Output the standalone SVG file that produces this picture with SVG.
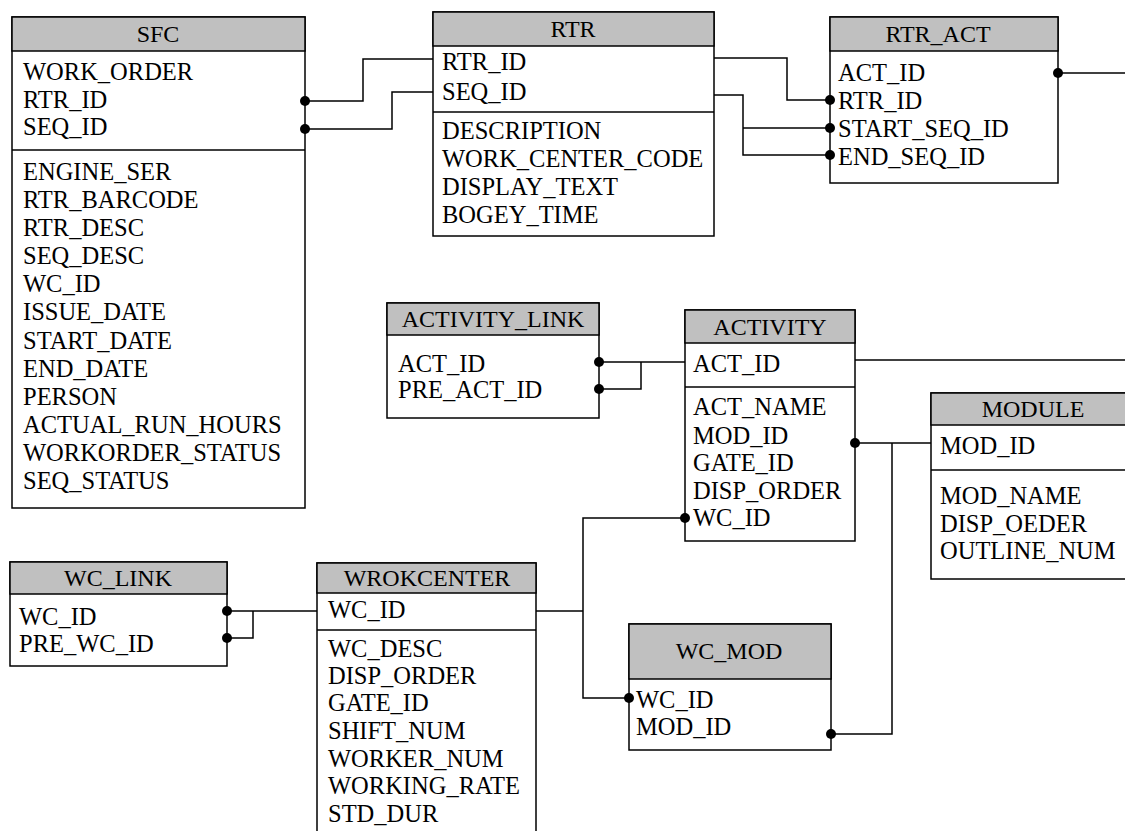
<svg xmlns="http://www.w3.org/2000/svg" width="1125" height="831" viewBox="0 0 1125 831">
<style>
.box{fill:#ffffff;stroke:#000;stroke-width:1.5}
.hdr{fill:#c0c0c0;stroke:#000;stroke-width:1.5}
.sep{stroke:#000;stroke-width:1.5}
.t{font-family:"Liberation Serif","Times New Roman",serif;font-size:24.5px;fill:#000}
.ti{font-family:"Liberation Serif","Times New Roman",serif;font-size:24px;fill:#000;text-anchor:middle}
.c{fill:none;stroke:#000;stroke-width:1.5}
.d{fill:#000}
</style>
<rect width="1125" height="831" fill="#ffffff"/>

<g id="SFC">
<rect class="box" x="12" y="17" width="293" height="491"/>
<rect class="hdr" x="12" y="17" width="293" height="34"/>
<line class="sep" x1="12" y1="150" x2="305" y2="150"/>
<text class="ti" x="158" y="42">SFC</text>
<text class="t" x="23" y="80">WORK_ORDER</text>
<text class="t" x="23" y="108">RTR_ID</text>
<text class="t" x="23" y="135">SEQ_ID</text>
<text class="t" x="23" y="180">ENGINE_SER</text>
<text class="t" x="23" y="208">RTR_BARCODE</text>
<text class="t" x="23" y="236">RTR_DESC</text>
<text class="t" x="23" y="264">SEQ_DESC</text>
<text class="t" x="23" y="292">WC_ID</text>
<text class="t" x="23" y="320">ISSUE_DATE</text>
<text class="t" x="23" y="349">START_DATE</text>
<text class="t" x="23" y="377">END_DATE</text>
<text class="t" x="23" y="405">PERSON</text>
<text class="t" x="23" y="433">ACTUAL_RUN_HOURS</text>
<text class="t" x="23" y="461">WORKORDER_STATUS</text>
<text class="t" x="23" y="489">SEQ_STATUS</text>
</g>

<g id="RTR">
<rect class="box" x="433" y="12" width="281" height="224"/>
<rect class="hdr" x="433" y="12" width="281" height="34"/>
<line class="sep" x1="433" y1="112" x2="714" y2="112"/>
<text class="ti" x="573" y="37">RTR</text>
<text class="t" x="442" y="70">RTR_ID</text>
<text class="t" x="442" y="100">SEQ_ID</text>
<text class="t" x="442" y="139">DESCRIPTION</text>
<text class="t" x="442" y="167">WORK_CENTER_CODE</text>
<text class="t" x="442" y="195">DISPLAY_TEXT</text>
<text class="t" x="442" y="223">BOGEY_TIME</text>
</g>

<g id="RTR_ACT">
<rect class="box" x="830" y="17" width="228" height="166"/>
<rect class="hdr" x="830" y="17" width="228" height="34"/>
<text class="ti" x="938" y="42">RTR_ACT</text>
<text class="t" x="838" y="81">ACT_ID</text>
<text class="t" x="838" y="109">RTR_ID</text>
<text class="t" x="838" y="137">START_SEQ_ID</text>
<text class="t" x="838" y="165">END_SEQ_ID</text>
</g>

<g id="ACTIVITY_LINK">
<rect class="box" x="387" y="303" width="212" height="115"/>
<rect class="hdr" x="387" y="303" width="212" height="32"/>
<text class="ti" x="493" y="327">ACTIVITY_LINK</text>
<text class="t" x="398" y="372">ACT_ID</text>
<text class="t" x="398" y="398">PRE_ACT_ID</text>
</g>

<g id="ACTIVITY">
<rect class="box" x="685" y="310" width="170" height="231"/>
<rect class="hdr" x="685" y="310" width="170" height="33"/>
<line class="sep" x1="685" y1="387" x2="855" y2="387"/>
<text class="ti" x="770" y="335">ACTIVITY</text>
<text class="t" x="693" y="372">ACT_ID</text>
<text class="t" x="693" y="415">ACT_NAME</text>
<text class="t" x="693" y="444">MOD_ID</text>
<text class="t" x="693" y="471">GATE_ID</text>
<text class="t" x="693" y="499">DISP_ORDER</text>
<text class="t" x="693" y="526">WC_ID</text>
</g>

<g id="MODULE">
<rect class="box" x="931" y="393" width="205" height="186"/>
<rect class="hdr" x="931" y="393" width="205" height="32"/>
<line class="sep" x1="931" y1="470" x2="1136" y2="470"/>
<text class="ti" x="1033" y="417">MODULE</text>
<text class="t" x="940" y="454">MOD_ID</text>
<text class="t" x="940" y="504">MOD_NAME</text>
<text class="t" x="940" y="532">DISP_OEDER</text>
<text class="t" x="940" y="559">OUTLINE_NUM</text>
</g>

<g id="WC_LINK">
<rect class="box" x="10" y="562" width="217" height="104"/>
<rect class="hdr" x="10" y="562" width="217" height="32"/>
<text class="ti" x="118" y="586">WC_LINK</text>
<text class="t" x="19" y="625">WC_ID</text>
<text class="t" x="19" y="652">PRE_WC_ID</text>
</g>

<g id="WROKCENTER">
<path class="box" d="M317,840 V563 H536 V840"/>
<rect class="hdr" x="317" y="563" width="219" height="30"/>
<line class="sep" x1="317" y1="630" x2="536" y2="630"/>
<text class="ti" x="427" y="586">WROKCENTER</text>
<text class="t" x="328" y="618">WC_ID</text>
<text class="t" x="328" y="657">WC_DESC</text>
<text class="t" x="328" y="684">DISP_ORDER</text>
<text class="t" x="328" y="711">GATE_ID</text>
<text class="t" x="328" y="739">SHIFT_NUM</text>
<text class="t" x="328" y="767">WORKER_NUM</text>
<text class="t" x="328" y="794">WORKING_RATE</text>
<text class="t" x="328" y="822">STD_DUR</text>
</g>

<g id="WC_MOD">
<rect class="box" x="629" y="624" width="202" height="126"/>
<rect class="hdr" x="629" y="624" width="202" height="55"/>
<text class="ti" x="729" y="659">WC_MOD</text>
<text class="t" x="636" y="708">WC_ID</text>
<text class="t" x="636" y="735">MOD_ID</text>
</g>

<g id="connectors">
<path class="c" d="M305,101 H363 V59 H433"/>
<path class="c" d="M305,129 H392 V92 H433"/>
<path class="c" d="M714,58 H787 V100 H830"/>
<path class="c" d="M714,95 H743 V155 H830"/>
<path class="c" d="M743,128 H830"/>
<path class="c" d="M1058,73 H1125"/>
<path class="c" d="M855,360 H1125"/>
<path class="c" d="M599,362 H685"/>
<path class="c" d="M641,362 V389 H599"/>
<path class="c" d="M855,443 H931"/>
<path class="c" d="M892,443 V734 H831"/>
<path class="c" d="M536,611 H583"/>
<path class="c" d="M685,518 H583 V698 H629"/>
<path class="c" d="M227,611 H317"/>
<path class="c" d="M253,611 V638 H227"/>
<circle class="d" cx="305" cy="101" r="5"/>
<circle class="d" cx="305" cy="129" r="5"/>
<circle class="d" cx="830" cy="100" r="5"/>
<circle class="d" cx="830" cy="128" r="5"/>
<circle class="d" cx="830" cy="155" r="5"/>
<circle class="d" cx="1058" cy="73" r="5"/>
<circle class="d" cx="599" cy="362" r="5"/>
<circle class="d" cx="599" cy="389" r="5"/>
<circle class="d" cx="855" cy="443" r="5"/>
<circle class="d" cx="831" cy="734" r="5"/>
<circle class="d" cx="685" cy="518" r="5"/>
<circle class="d" cx="629" cy="698" r="5"/>
<circle class="d" cx="227" cy="611" r="5"/>
<circle class="d" cx="227" cy="638" r="5"/>
</g>
</svg>
